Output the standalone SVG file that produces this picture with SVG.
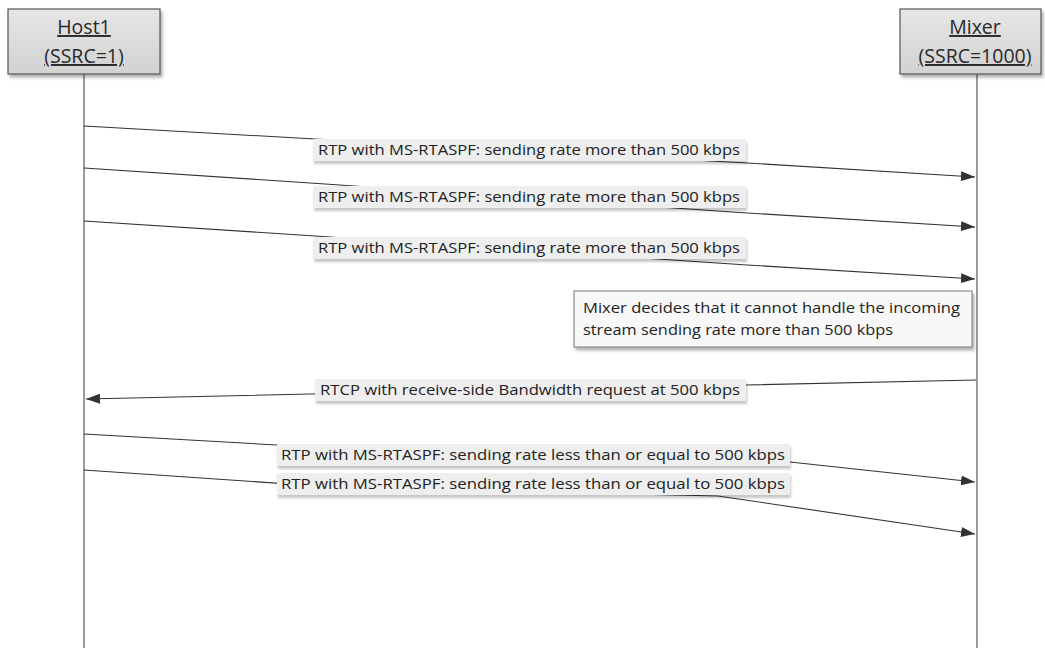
<svg xmlns="http://www.w3.org/2000/svg" width="1045" height="654" viewBox="0 0 1045 654">
<defs>
<linearGradient id="hg" x1="0" y1="0" x2="0" y2="1">
<stop offset="0" stop-color="#e6e6e6"/>
<stop offset="1" stop-color="#d2d2d2"/>
</linearGradient>
<filter id="sh" x="-5%" y="-20%" width="115%" height="160%">
<feDropShadow dx="2" dy="3" stdDeviation="1.5" flood-color="#000" flood-opacity="0.3"/>
</filter>
<filter id="lsh" x="-5%" y="-30%" width="115%" height="180%">
<feDropShadow dx="1" dy="3" stdDeviation="1.2" flood-color="#000" flood-opacity="0.22"/>
</filter>
<marker id="ah" viewBox="0 0 14 10" refX="14" refY="5" markerWidth="14" markerHeight="10" markerUnits="userSpaceOnUse" orient="auto">
<path d="M0,0 L14,5 L0,10 Z" fill="#333"/>
</marker>
</defs>
<style>
.head{fill:url(#hg);stroke:#555;stroke-width:1.2;filter:url(#sh)}
.ht{font-family:"Open Sans","Liberation Sans",sans-serif;font-size:19.5px;fill:#2a2a2a;text-anchor:middle;text-decoration:underline}
.life{stroke:#7a7a7a;stroke-width:1.5;fill:none}
.msg{stroke:#333;stroke-width:1.1;fill:none;marker-end:url(#ah)}
.lb{fill:#eeeeee;filter:url(#lsh)}
.lt{font-family:"Open Sans","Liberation Sans",sans-serif;font-size:14.5px;fill:#222}
.note{fill:#f8f8f8;stroke:#777;stroke-width:1;filter:url(#sh)}
</style>
<rect width="1045" height="654" fill="#fff"/>
<g id="host1">
<line class="life" x1="84" y1="74" x2="84" y2="648"/>
<rect class="head" x="8" y="9" width="152" height="65"/>
<text class="ht" x="84" y="34">Host1</text>
<text class="ht" x="84" y="63">(SSRC=1)</text>
</g>
<g id="mixer">
<line class="life" x1="977" y1="74" x2="977" y2="648"/>
<rect class="head" x="900" y="9" width="141" height="65"/>
<text class="ht" x="975" y="34">Mixer</text>
<text class="ht" x="975" y="63">(SSRC=1000)</text>
</g>
<g id="connectors">
<polyline class="msg" points="84,126 315,139 747,163 975,177"/>
<polyline class="msg" points="84,168 325,184 747,213 975,227"/>
<polyline class="msg" points="84,221 315,236 747,265 975,279"/>
<polyline class="msg" points="976,380 747,385 310,394 86,399"/>
<polyline class="msg" points="84,434 277,445 790,462 975,482"/>
<polyline class="msg" points="84,470 332,487 718,496 975,534"/>
</g>
<g id="label1">
<rect class="lb" x="313" y="139" width="433" height="22"/>
<text class="lt" x="318" y="155" textLength="422" lengthAdjust="spacingAndGlyphs">RTP with MS-RTASPF: sending rate more than 500 kbps</text>
</g>
<g id="label2">
<rect class="lb" x="313" y="186" width="433" height="22"/>
<text class="lt" x="318" y="202" textLength="422" lengthAdjust="spacingAndGlyphs">RTP with MS-RTASPF: sending rate more than 500 kbps</text>
</g>
<g id="label3">
<rect class="lb" x="313" y="237" width="433" height="22"/>
<text class="lt" x="318" y="253" textLength="422" lengthAdjust="spacingAndGlyphs">RTP with MS-RTASPF: sending rate more than 500 kbps</text>
</g>
<g id="note">
<rect class="note" x="574" y="291" width="398" height="56"/>
<text class="lt" x="583" y="313" textLength="377" lengthAdjust="spacingAndGlyphs">Mixer decides that it cannot handle the incoming</text>
<text class="lt" x="583" y="335" textLength="310" lengthAdjust="spacingAndGlyphs">stream sending rate more than 500 kbps</text>
</g>
<g id="label4">
<rect class="lb" x="315" y="379" width="431" height="22"/>
<text class="lt" x="320" y="395" textLength="420" lengthAdjust="spacingAndGlyphs">RTCP with receive-side Bandwidth request at 500 kbps</text>
</g>
<g id="label5">
<rect class="lb" x="277" y="444" width="513" height="22"/>
<text class="lt" x="281" y="460" textLength="504" lengthAdjust="spacingAndGlyphs">RTP with MS-RTASPF: sending rate less than or equal to 500 kbps</text>
</g>
<g id="label6">
<rect class="lb" x="277" y="473" width="513" height="22"/>
<text class="lt" x="281" y="489" textLength="504" lengthAdjust="spacingAndGlyphs">RTP with MS-RTASPF: sending rate less than or equal to 500 kbps</text>
</g>
</svg>
